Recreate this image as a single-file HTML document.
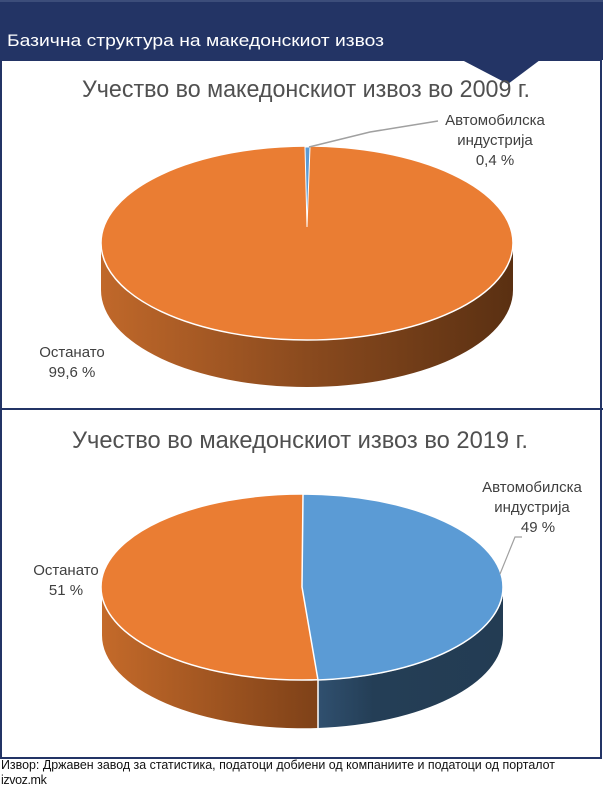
<!DOCTYPE html>
<html><head><meta charset="utf-8"><style>
html,body{margin:0;padding:0;width:603px;height:787px;overflow:hidden;background:#fff;font-family:"Liberation Sans",sans-serif}
</style></head><body>
<svg width="603" height="787" viewBox="0 0 603 787" xmlns="http://www.w3.org/2000/svg">
<defs>
<linearGradient id="og" x1="0" x2="1" y1="0" y2="0">
<stop offset="0" stop-color="#c0682a"/><stop offset="0.5" stop-color="#8a4a1e"/><stop offset="1" stop-color="#5a3012"/></linearGradient>
<linearGradient id="og2" x1="0" x2="1" y1="0" y2="0">
<stop offset="0" stop-color="#c46a2a"/><stop offset="1" stop-color="#7e4118"/></linearGradient>
<linearGradient id="bg2" x1="0" x2="1" y1="0" y2="0">
<stop offset="0" stop-color="#30506f"/><stop offset="0.3" stop-color="#243e56"/><stop offset="1" stop-color="#233c53"/></linearGradient>
</defs>
<rect x="0" y="0" width="603" height="60" fill="#233465"/>
<rect x="0" y="0" width="603" height="2" fill="#3c4d7a"/>
<text x="7" y="46" font-size="17" fill="#fff" textLength="377" lengthAdjust="spacingAndGlyphs">Базична структура на македонскиот извоз</text>
<rect x="1" y="60" width="600" height="698" fill="#fff" stroke="#233465" stroke-width="2"/>
<polygon points="462,60 540,60 508,84" fill="#233465"/>
<line x1="0" y1="409" x2="603" y2="409" stroke="#233465" stroke-width="2"/>
<text x="82" y="97" font-size="24" fill="#505050" textLength="448" lengthAdjust="spacingAndGlyphs">Учество во македонскиот извоз во 2009 г.</text>
<!-- pie 1 -->
<path d="M101,243 L101,290 A206,97 0 0 0 513,290 L513,243 A206,97 0 0 1 101,243Z" fill="url(#og)"/>
<ellipse cx="307" cy="243" rx="206" ry="97" fill="#ea7d33" stroke="#fff" stroke-width="1.5"/>
<polygon points="307,227 305,147 310,147" fill="#5b9bd5" stroke="#fff" stroke-width="1"/>
<polyline points="309,147 370,132 438,121" fill="none" stroke="#a0a0a0" stroke-width="1.5"/>
<g font-size="15" fill="#404040" text-anchor="middle">
<text x="495" y="125">Автомобилска</text>
<text x="495" y="145">индустрија</text>
<text x="495" y="165">0,4 %</text>
<text x="72" y="357">Останато</text>
<text x="72" y="377">99,6 %</text>
<text x="532" y="492">Автомобилска</text>
<text x="532" y="512">индустрија</text>
<text x="538" y="532">49 %</text>
<text x="66" y="575">Останато</text>
<text x="66" y="595">51 %</text>
</g>
<text x="72" y="448" font-size="24" fill="#505050" textLength="456" lengthAdjust="spacingAndGlyphs">Учество во македонскиот извоз во 2019 г.</text>
<!-- pie 2 -->
<path d="M102,587 L102,635 A201,93 0 0 0 318,728 L318,680 A201,93 0 0 1 102,587Z" fill="url(#og2)"/>
<path d="M318,680 L318,728 A201,93 0 0 0 503,635 L503,587 A201,93 0 0 1 318,680Z" fill="url(#bg2)"/>
<line x1="318" y1="680" x2="318" y2="728" stroke="#fff" stroke-width="1.5"/>
<ellipse cx="302" cy="587" rx="201" ry="93" fill="#ea7d33" stroke="#fff" stroke-width="1.5"/>
<path d="M302,587 L303,494 A201,93 0 0 1 503,587 A201,93 0 0 1 318,680Z" fill="#5b9bd5" stroke="#fff" stroke-width="1.5"/>
<polyline points="500,574 515,537 522,537" fill="none" stroke="#a0a0a0" stroke-width="1.2"/>
<text x="1" y="769" font-size="12.5" fill="#111" textLength="554" lengthAdjust="spacingAndGlyphs">Извор: Државен завод за статистика, податоци добиени од компаниите и податоци од порталот</text>
<text x="1" y="784" font-size="12.5" fill="#111" letter-spacing="-0.4">izvoz.mk</text>
</svg>
</body></html>
